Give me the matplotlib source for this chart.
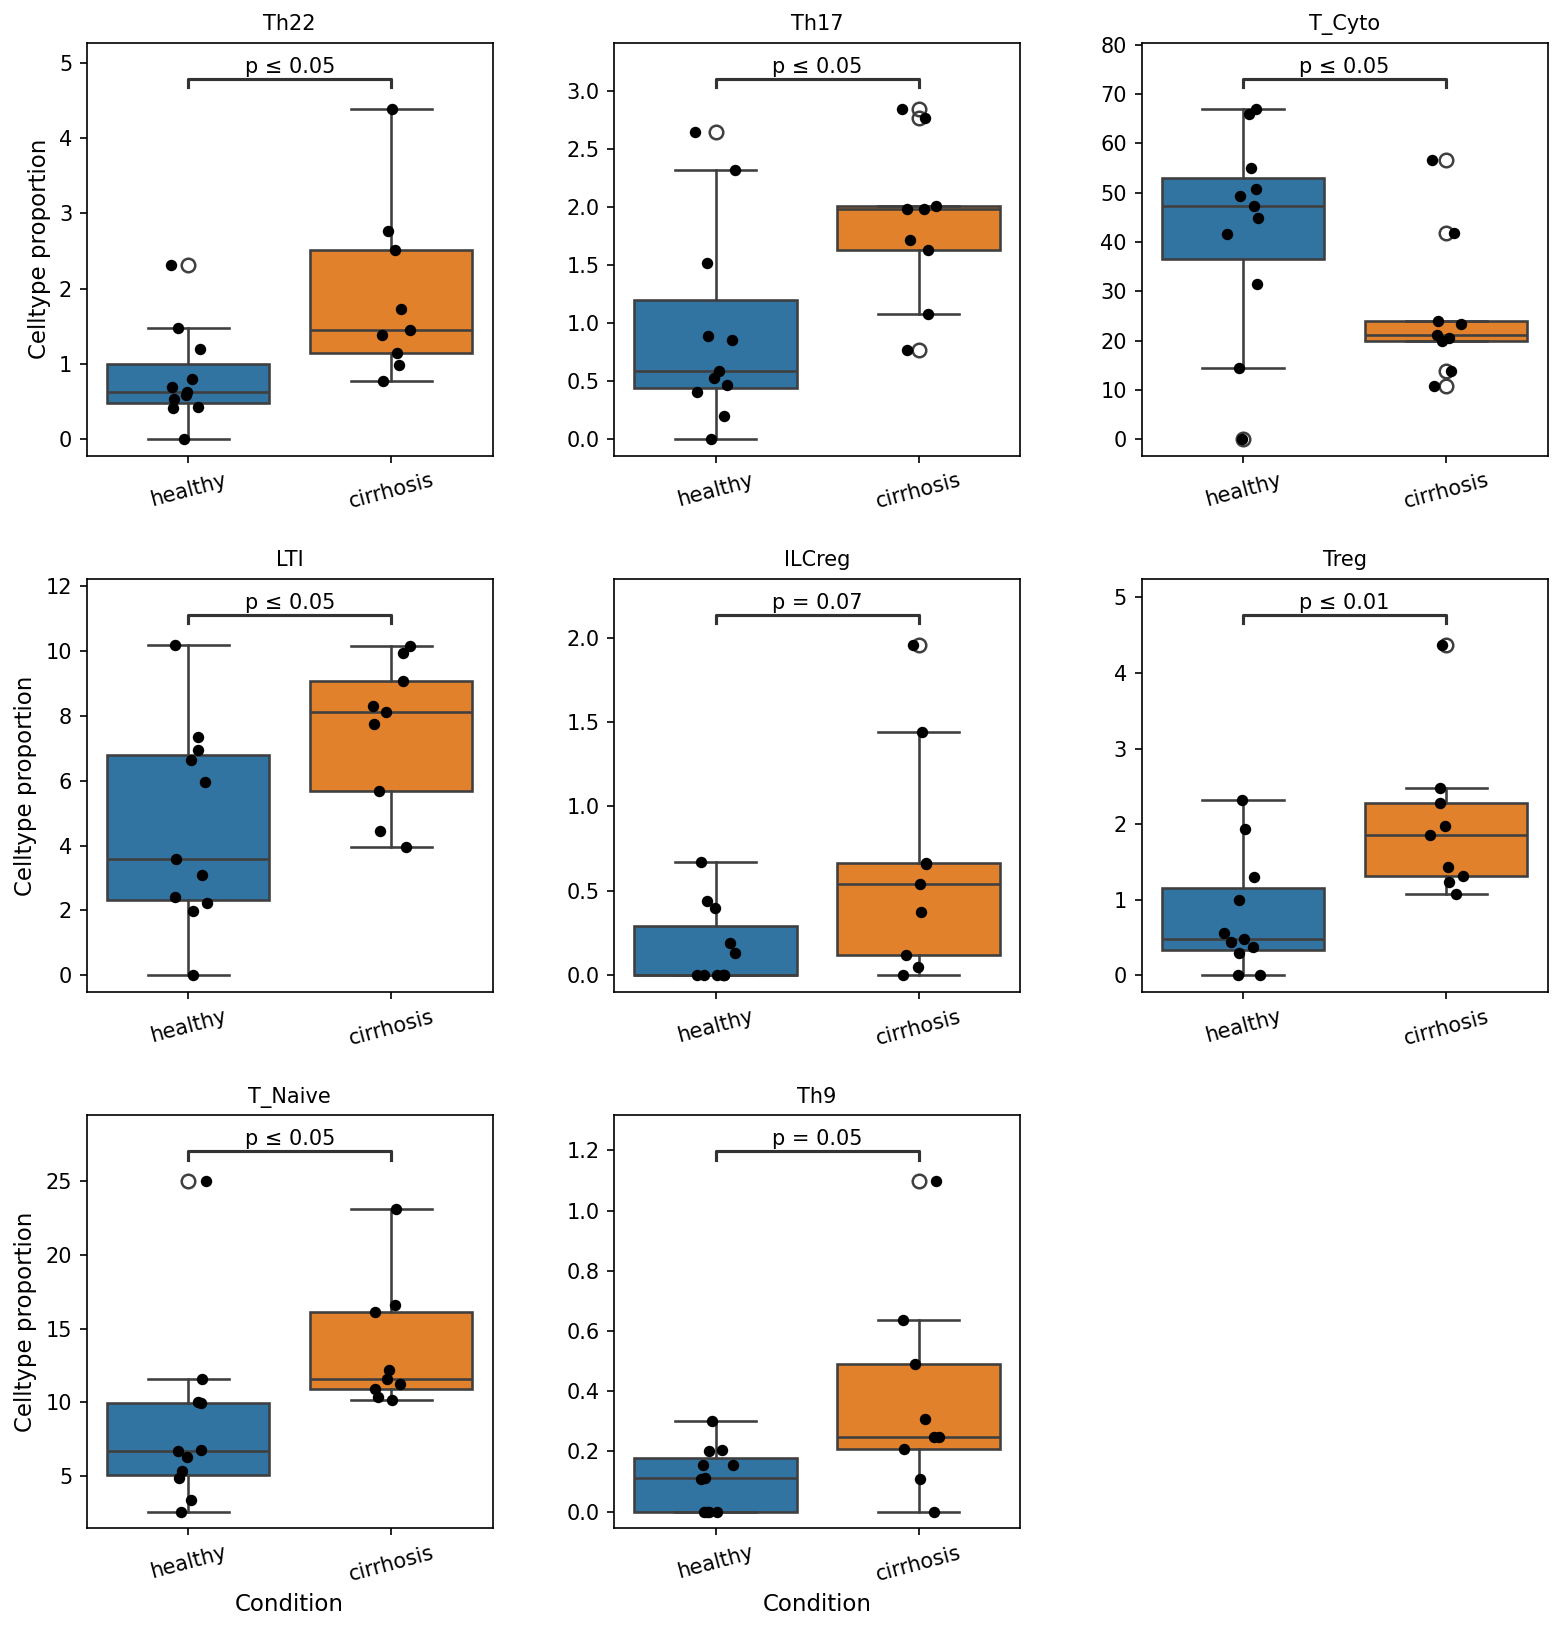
"""Celltype proportions per condition: boxplots with strip points and p-value brackets."""

import matplotlib

matplotlib.use("Agg")
import matplotlib.pyplot as plt
import matplotlib.transforms as mtransforms
import numpy as np

conditions = ["healthy", "cirrhosis"]
celltypes = ["Th22", "Th17", "T_Cyto", "LTI", "ILCreg", "Treg", "T_Naive", "Th9"]
p_labels = [
    "p ≤ 0.05", "p ≤ 0.05", "p ≤ 0.05", "p ≤ 0.05",
    "p = 0.07", "p ≤ 0.01", "p ≤ 0.05", "p = 0.05",
]

# values (11 healthy, 9 cirrhosis samples)
th22_healthy = [2.31, 1.48, 1.20, 0.80, 0.69, 0.59, 0.63, 0.53, 0.43, 0.41, 0.0]
th22_cirrhosis = [4.39, 2.77, 2.52, 1.73, 1.45, 1.39, 1.14, 0.99, 0.77]

th17_healthy = [2.65, 2.32, 1.52, 0.89, 0.86, 0.59, 0.53, 0.47, 0.41, 0.20, 0.0]
th17_cirrhosis = [2.85, 2.77, 2.01, 1.99, 1.99, 1.72, 1.63, 1.08, 0.77]

t_cyto_healthy = [67.0, 66.0, 55.1, 50.8, 49.4, 47.4, 44.9, 41.7, 31.5, 14.5, 0.0]
t_cyto_cirrhosis = [56.7, 41.9, 23.9, 23.4, 21.2, 20.6, 20.0, 13.9, 10.9]

lti_healthy = [10.18, 7.35, 6.95, 6.64, 5.96, 3.59, 3.10, 2.43, 2.24, 1.97, 0.0]
lti_cirrhosis = [10.15, 9.93, 9.08, 8.31, 8.10, 7.75, 5.69, 4.45, 3.96]

ilcreg_healthy = [0.67, 0.44, 0.40, 0.19, 0.134, 0.0, 0.0, 0.0, 0.0, 0.0, 0.0]
ilcreg_cirrhosis = [1.956, 1.443, 0.665, 0.657, 0.543, 0.378, 0.118, 0.05, 0.0]

treg_healthy = [2.32, 1.93, 1.30, 1.00, 0.56, 0.48, 0.44, 0.37, 0.30, 0.0, 0.0]
treg_cirrhosis = [4.37, 2.48, 2.28, 1.98, 1.86, 1.43, 1.32, 1.23, 1.08]

t_naive_healthy = [25.0, 11.6, 9.99, 9.92, 6.76, 6.72, 6.28, 5.31, 4.83, 3.39, 2.59]
t_naive_cirrhosis = [23.1, 16.6, 16.1, 12.2, 11.56, 11.25, 10.92, 10.34, 10.12]

th9_healthy = [0.30, 0.204, 0.20, 0.155, 0.153, 0.111, 0.109, 0.0, 0.0, 0.0, 0.0]
th9_cirrhosis = [1.098, 0.635, 0.49, 0.308, 0.248, 0.246, 0.207, 0.107, 0.0]

panel_data = {
    "Th22": (th22_healthy, th22_cirrhosis),
    "Th17": (th17_healthy, th17_cirrhosis),
    "T_Cyto": (t_cyto_healthy, t_cyto_cirrhosis),
    "LTI": (lti_healthy, lti_cirrhosis),
    "ILCreg": (ilcreg_healthy, ilcreg_cirrhosis),
    "Treg": (treg_healthy, treg_cirrhosis),
    "T_Naive": (t_naive_healthy, t_naive_cirrhosis),
    "Th9": (th9_healthy, th9_cirrhosis),
}

BOX_COLORS = ["#3274a1", "#e1812c"]
LINE = "#3f3f3f"
LW = 1.25


def draw_panel(ax, title, healthy, cirrhosis, p_label, rng):
    """Draw one boxplot + strip panel with its significance bracket."""
    groups = [np.asarray(healthy, float), np.asarray(cirrhosis, float)]

    bp = ax.boxplot(
        groups,
        positions=[0, 1],
        widths=0.8,
        capwidths=0.4,
        whis=1.5,
        patch_artist=True,
        boxprops=dict(edgecolor=LINE, linewidth=LW),
        medianprops=dict(color=LINE, linewidth=LW),
        whiskerprops=dict(color=LINE, linewidth=LW),
        capprops=dict(color=LINE, linewidth=LW),
        flierprops=dict(
            marker="o",
            markerfacecolor="none",
            markeredgecolor=LINE,
            markersize=6.5,
            markeredgewidth=1.2,
        ),
        zorder=2,
    )
    for patch, color in zip(bp["boxes"], BOX_COLORS):
        patch.set_facecolor(color)

    # strip points with small horizontal jitter
    for i, vals in enumerate(groups):
        x = i + rng.uniform(-0.1, 0.1, len(vals))
        ax.scatter(x, vals, s=30, color="black", linewidths=0, zorder=3)

    lo = min(g.min() for g in groups)
    hi = max(g.max() for g in groups)
    span = hi - lo
    bottom = lo - 0.05 * span
    top = bottom + (hi + 0.05 * span - bottom) / 0.88
    ax.set_ylim(bottom, top)
    ax.set_xlim(-0.5, 1.5)

    trans = mtransforms.blended_transform_factory(ax.transData, ax.transAxes)
    ax.plot(
        [0, 0, 1, 1],
        [0.892, 0.912, 0.912, 0.892],
        transform=trans,
        color="0.2",
        lw=1.5,
        clip_on=False,
    )
    ax.annotate(
        p_label,
        xy=(0.5, 0.912),
        xycoords=trans,
        xytext=(0, 1),
        textcoords="offset points",
        ha="center",
        va="bottom",
        fontsize=10,
    )

    ax.set_xticks([0, 1])
    ax.set_xticklabels(conditions, rotation=15)
    ax.tick_params(labelsize=10)
    ax.set_title(title, fontsize=10)


fig, axes = plt.subplots(3, 3, figsize=(1568 / 150, 1632 / 150), dpi=150)
fig.subplots_adjust(
    left=0.0553, right=0.987, top=0.9738, bottom=0.0637, wspace=0.299, hspace=0.298
)

rng = np.random.default_rng(3)
for idx, (name, p_label) in enumerate(zip(celltypes, p_labels)):
    ax = axes.flat[idx]
    healthy, cirrhosis = panel_data[name]
    draw_panel(ax, name, healthy, cirrhosis, p_label, rng)
    if idx % 3 == 0:
        ax.set_ylabel("Celltype proportion", fontsize=11)
    if idx >= 6:
        ax.set_xlabel("Condition", fontsize=11)

axes.flat[8].remove()

fig.savefig("out.png", dpi=150)
